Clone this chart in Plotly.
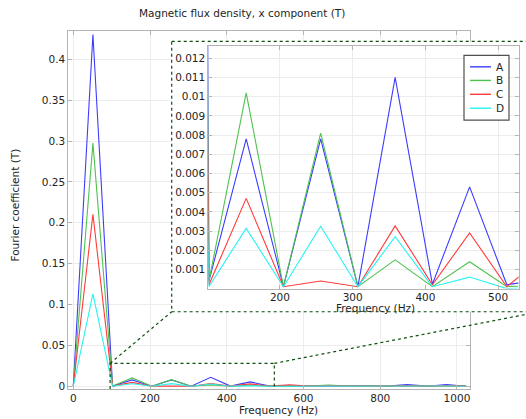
import plotly.graph_objects as go

# Fourier spectrum of Bx at four probe points (harmonics of 51.2 Hz)
freq_step = 51.2
harmonic = list(range(21))
frequency = [k * freq_step for k in harmonic]

series_names = ["A", "B", "C", "D"]
series_colors = ["#3c3cff", "#4fc24f", "#ff3a3a", "#28f2f2"]

coef_a = [0, 0.4305, 0.0004, 0.0078, 0.0001, 0.0078, 0.0001, 0.0110, 0.00023, 0.0053, 0.0002,
          0.0005, 0.0001, 0.0003, 0.0001, 0.0010, 0.0001, 0.0020, 0.0001, 0.0022, 0.0001]
coef_b = [0, 0.2975, 0.0004, 0.0102, 0.0001, 0.0081, 0.0001, 0.0015, 0.0001, 0.0014, 0.0001,
          0.0002, 0.0001, 0.0015, 0.0001, 0.0004, 0.0001, 0.0005, 0.0001, 0.0006, 0.0001]
coef_c = [0, 0.2105, 0.0002, 0.0047, 0.0001, 0.0004, 0.0001, 0.00327, 0.0002, 0.0029, 0.0001,
          0.0017, 0.0001, 0.0003, 0.0001, 0.0004, 0.0001, 0.0006, 0.0001, 0.0007, 0.0001]
coef_d = [0, 0.1130, 0.0001, 0.00314, 0.0001, 0.00325, 0.0001, 0.0027, 0.0001, 0.0006, 0.0,
          0.0001, 0.0, 0.0002, 0.0, 0.0002, 0.0, 0.0003, 0.0, 0.0003, 0.0]
coefficients = [coef_a, coef_b, coef_c, coef_d]

main_xticks = [0, 200, 400, 600, 800, 1000]
main_yticks = [0, 0.05, 0.1, 0.15, 0.2, 0.25, 0.3, 0.35, 0.4]
main_yticktext = ["0", "0.05", "0.1", "0.15", "0.2", "0.25", "0.3", "0.35", "0.4"]
zoom_xticks = [200, 300, 400, 500]
zoom_yticks = [0.001 * i for i in range(1, 13)]
zoom_yticktext = ["0.001", "0.002", "0.003", "0.004", "0.005", "0.006",
                  "0.007", "0.008", "0.009", "0.01", "0.011", "0.012"]

W, H = 526, 419
FONT = "DejaVu Sans"
TXT = "#1e1e1e"
FRAME = "#b4b4b4"
GRID = "#ececec"
BOXC = "#0b4d0b"

# main axes placement (pixels) and ranges
MAIN_L, MAIN_R, MAIN_T, MAIN_B = 68.3, 470, 31.7, 392
MAIN_XR = [-13, 1034]
MAIN_YR = [-0.0036, 0.4341]


def px(x):
    return x / W


def py(y):
    return 1 - y / H


def main_to_px(xv, yv):
    xp = MAIN_L + (xv - MAIN_XR[0]) / (MAIN_XR[1] - MAIN_XR[0]) * (MAIN_R - MAIN_L)
    yp = MAIN_B - (yv - MAIN_YR[0]) / (MAIN_YR[1] - MAIN_YR[0]) * (MAIN_B - MAIN_T)
    return xp, yp


fig = go.Figure()

# main spectrum
for name, color, vals in zip(series_names, series_colors, coefficients):
    fig.add_trace(go.Scatter(x=frequency, y=vals, mode="lines", name=name,
                             line=dict(color=color, width=1.1),
                             xaxis="x", yaxis="y", showlegend=False))

# white panel behind the zoomed view, with dotted border (pixel-unit axes)
fig.add_trace(go.Scatter(x=[171.7, 560, 560, 171.7, 171.7],
                         y=[41.7, 41.7, 314, 314, 41.7],
                         mode="lines", fill="toself", fillcolor="white",
                         line=dict(color=BOXC, width=1.2, dash="dot"),
                         xaxis="x2", yaxis="y2", showlegend=False, hoverinfo="skip"))

# zoomed spectrum
for name, color, vals in zip(series_names, series_colors, coefficients):
    fig.add_trace(go.Scatter(x=frequency, y=vals, mode="lines", name=name,
                             line=dict(color=color, width=1.1),
                             xaxis="x3", yaxis="y3", showlegend=False))

axis_common = dict(showline=True, linecolor=FRAME, linewidth=1, mirror="ticks",
                   ticks="inside", ticklen=4, tickcolor=FRAME, gridcolor=GRID,
                   zeroline=False, tickfont=dict(family=FONT, size=10.5, color=TXT))

fig.update_layout(
    width=W, height=H,
    margin=dict(l=0, r=0, t=0, b=0),
    paper_bgcolor="white", plot_bgcolor="rgba(0,0,0,0)",
    xaxis=dict(domain=[px(MAIN_L), px(MAIN_R)], range=MAIN_XR,
               tickvals=main_xticks, ticklabelstandoff=-1, **axis_common),
    yaxis=dict(domain=[py(MAIN_B), py(MAIN_T)], range=MAIN_YR,
               tickvals=main_yticks, ticktext=main_yticktext, **axis_common),
    xaxis2=dict(domain=[px(170), 1], range=[170, 526], visible=False, showgrid=False),
    yaxis2=dict(domain=[py(316), py(40)], range=[316, 40], visible=False, showgrid=False),
    xaxis3=dict(domain=[px(208.3), px(518.5)], range=[101.5, 528],
                tickvals=zoom_xticks, anchor="y3", ticklabelstandoff=-1, **axis_common),
    yaxis3=dict(domain=[py(290.7), py(46.5)], range=[0, 0.01263],
                tickvals=zoom_yticks, ticktext=zoom_yticktext, anchor="x3", **axis_common),
    showlegend=False,
)

# zoom region marker on the main axes and the connector lines
zoom_x0, zoom_x1 = 96, 524
zoom_y0, zoom_y1 = -0.005, 0.028
dot = dict(color=BOXC, width=1.2, dash="dot")
fig.add_shape(type="rect", xref="x", yref="y", x0=zoom_x0, x1=zoom_x1, y0=zoom_y0, y1=zoom_y1,
              line=dot, layer="above")
lx, ty = main_to_px(zoom_x0, zoom_y1)
rx, _ = main_to_px(zoom_x1, zoom_y1)
fig.add_shape(type="line", xref="paper", yref="paper", x0=px(lx), y0=py(ty),
              x1=px(171.7), y1=py(314), line=dot, layer="above")
fig.add_shape(type="line", xref="paper", yref="paper", x0=px(rx), y0=py(ty),
              x1=px(560), y1=py(310), line=dot, layer="above")

# legend box
fig.add_shape(type="rect", xref="paper", yref="paper", x0=px(464), x1=px(509),
              y0=py(121), y1=py(55.7), fillcolor="white",
              line=dict(color="#505050", width=1.2), layer="above")
row_y = [67.3, 81, 95, 109]
for name, color, yy in zip(series_names, series_colors, row_y):
    fig.add_shape(type="line", xref="paper", yref="paper", x0=px(470), x1=px(491),
                  y0=py(yy), y1=py(yy), line=dict(color=color, width=1.4), layer="above")
    fig.add_annotation(x=px(494), y=py(yy), xref="paper", yref="paper", text=name,
                       showarrow=False, xanchor="left", yanchor="middle",
                       font=dict(family=FONT, size=10.5, color=TXT))

# titles
fig.add_annotation(x=px(241.5), y=py(13.5), xref="paper", yref="paper",
                   text="Magnetic flux density, x component (T)", showarrow=False,
                   xanchor="center", yanchor="middle",
                   font=dict(family=FONT, size=10.5, color=TXT))
fig.add_annotation(x=px(278), y=py(412.5), xref="paper", yref="paper",
                   text="Frequency (Hz)", showarrow=False, xanchor="center", yanchor="middle",
                   font=dict(family=FONT, size=10.5, color=TXT))
fig.add_annotation(x=px(375), y=py(310.5), xref="paper", yref="paper",
                   text="Frequency (Hz)", showarrow=False, xanchor="center", yanchor="middle",
                   font=dict(family=FONT, size=10.5, color=TXT))
fig.add_annotation(x=px(15), y=py(207), xref="paper", yref="paper",
                   text="Fourier coefficient (T)", showarrow=False, textangle=-90,
                   xanchor="center", yanchor="middle",
                   font=dict(family=FONT, size=10.5, color=TXT))

fig.write_html("out.html")
